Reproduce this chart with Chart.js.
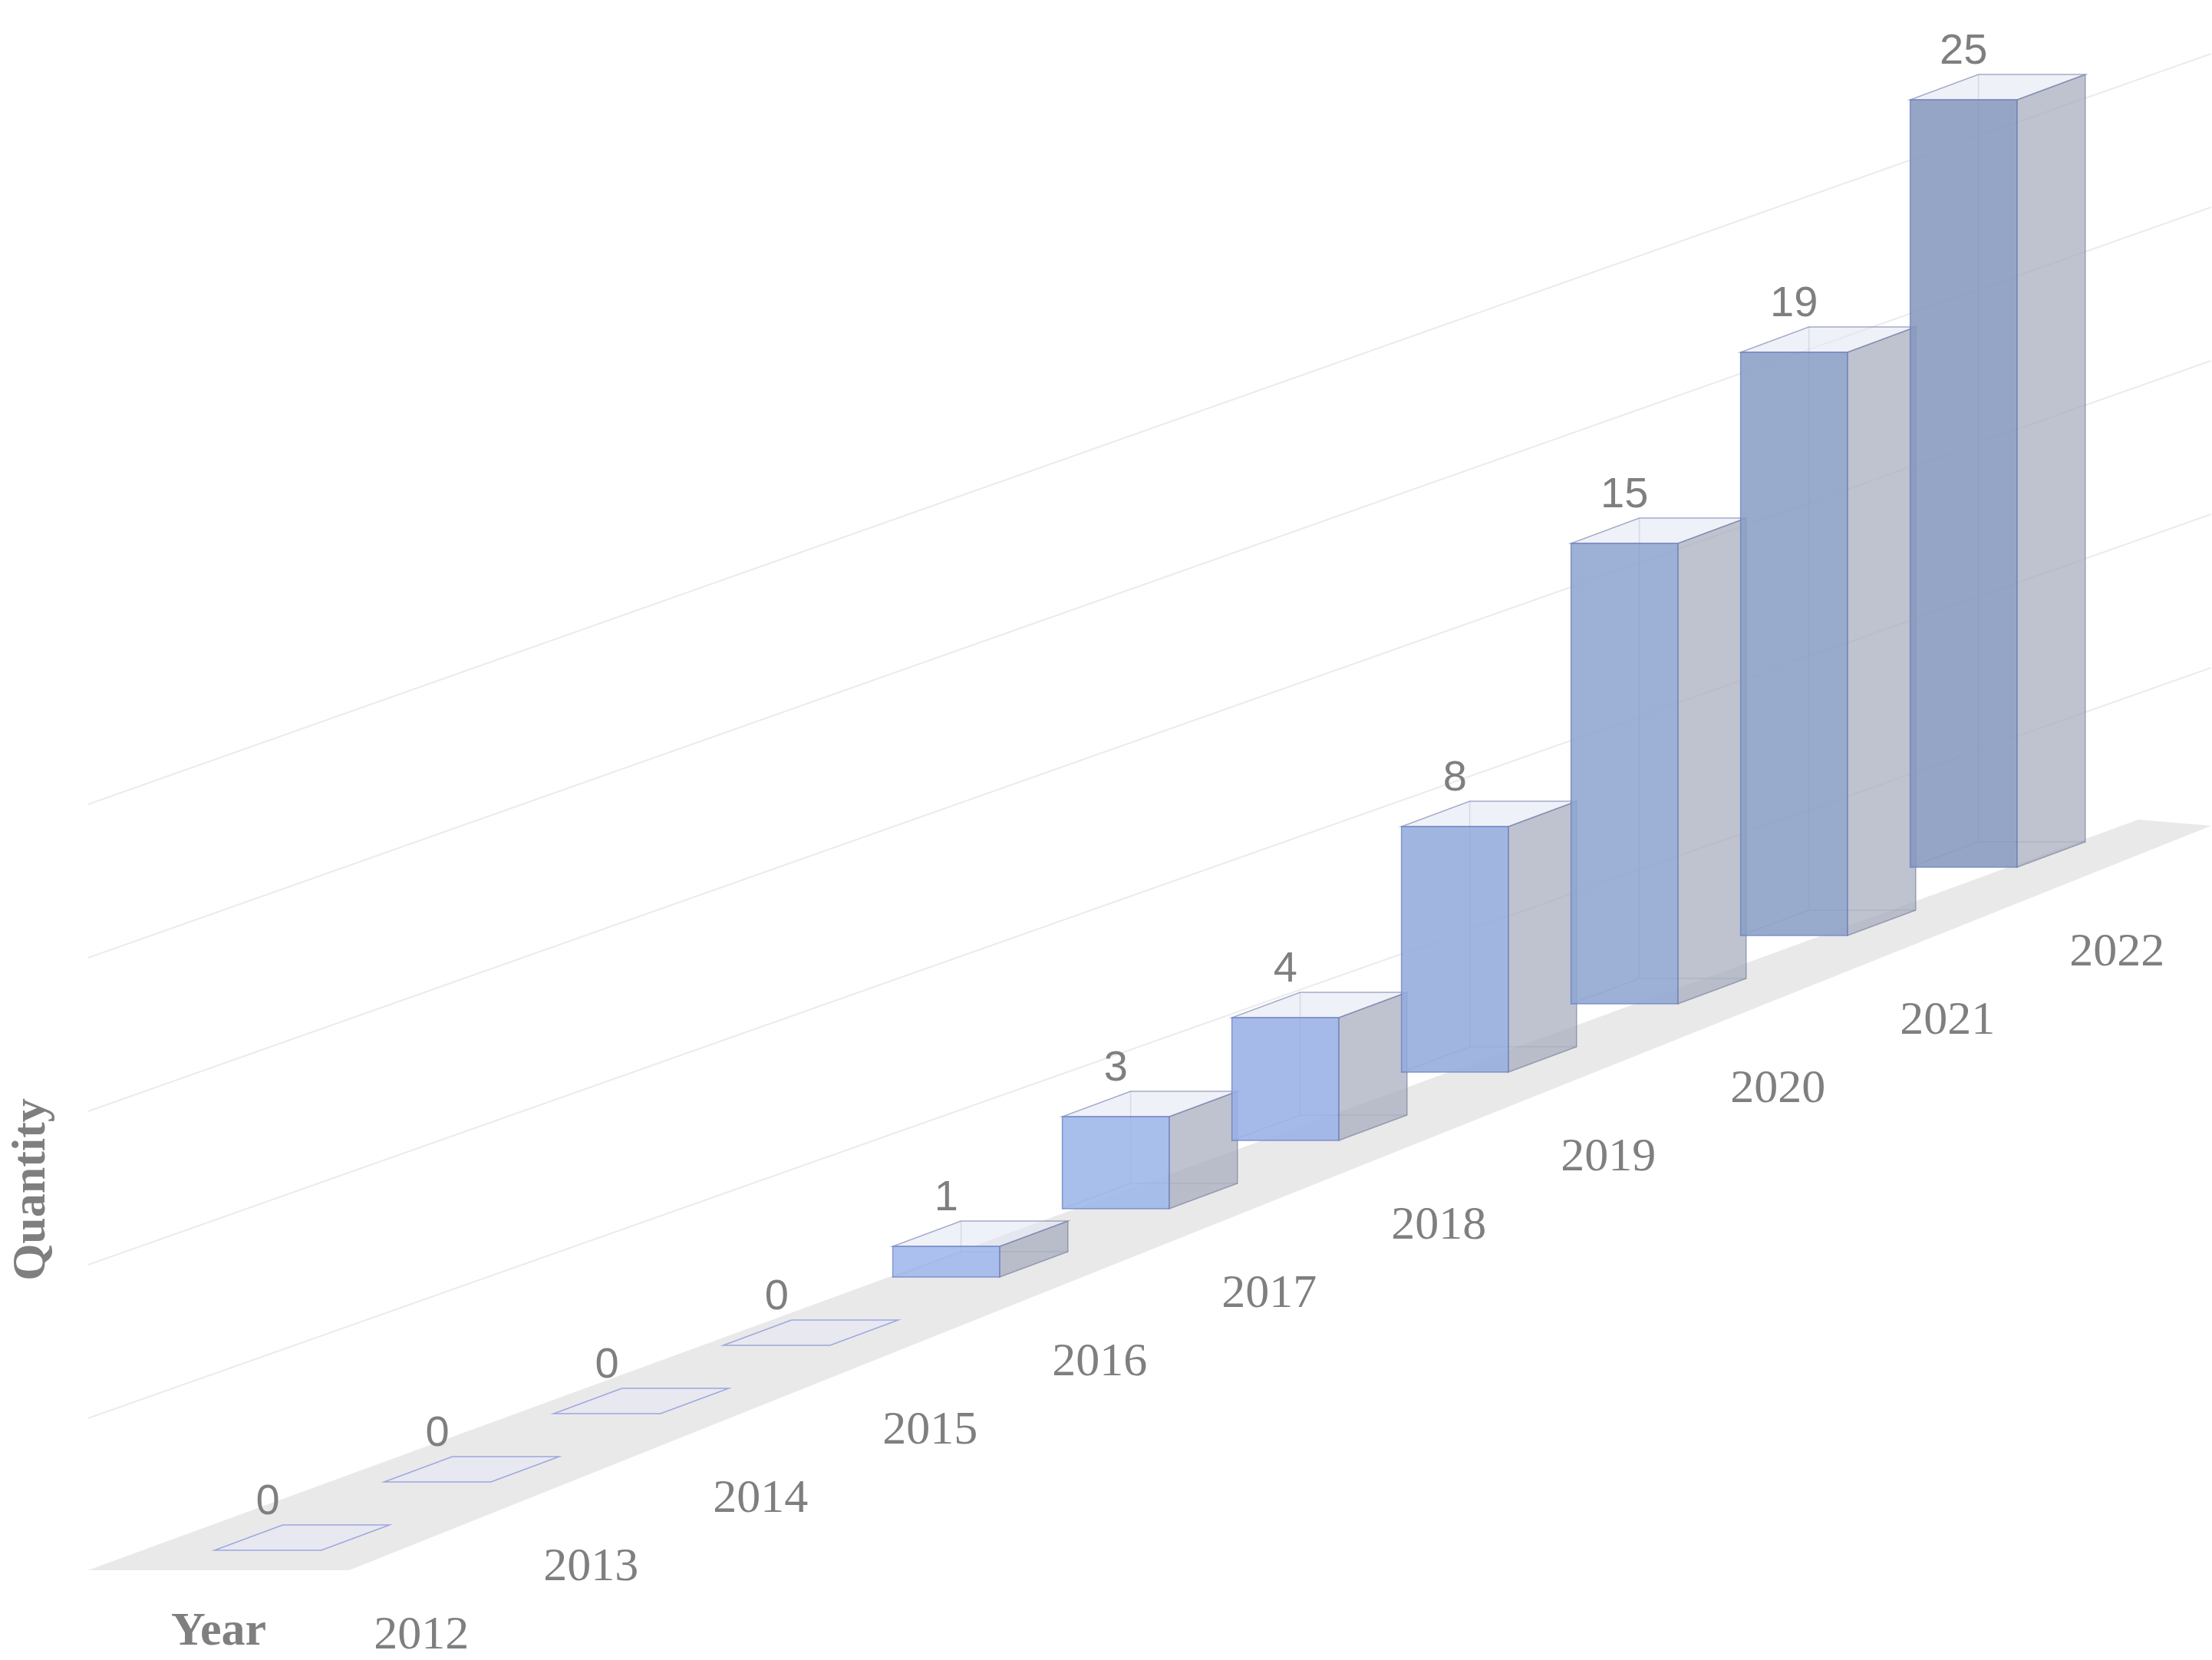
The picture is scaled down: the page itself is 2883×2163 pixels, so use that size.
<!DOCTYPE html>
<html><head><meta charset="utf-8">
<script src="https://cdn.jsdelivr.net/npm/chart.js@4"></script>
<style>html,body{margin:0;background:#fff}#c{display:block}</style>
</head><body>
<div style="width:2883px;height:2163px"><canvas id="c"></canvas></div>
<script>
const years=['2012','2013','2014','2015','2016','2017','2018','2019','2020','2021','2022'];
const values=[0,0,0,0,1,3,4,8,15,19,25];
const gridTicks=[5,10,15,20,25];
const RISE=2.225, HALF=0.315, DX=89, DY=33;
const frontCols=['#a6bdf0','#a6bdf0','#a6bdf0','#a6bdf0','#9fb7ec','#9cb5e8','#98b1e6','#93acdc','#8fa6d0','#8a9fc6','#8699bd'];
const plugin={
 id:'bars3d',
 beforeDatasetsDraw(ch){
  const c=ch.ctx,xs=ch.scales.x,ys=ch.scales.y,P=(x,y)=>[xs.getPixelForValue(x),ys.getPixelForValue(y)];
  c.save();
  // floor
  c.fillStyle='#e9e9e9';c.beginPath();
  [[-1.06,-0.65],[0.48,-0.65],[11.46,23.6],[11.03,23.8]].forEach((p,i)=>{const q=P(p[0],p[1]);i?c.lineTo(q[0],q[1]):c.moveTo(q[0],q[1]);});
  c.closePath();c.fill();
  // back grid lines
  c.strokeStyle='#ececec';c.lineWidth=2;
  gridTicks.forEach(t=>{const a=P(-1.06,t-0.7),b=P(11.46,t+23.75);c.beginPath();c.moveTo(a[0],a[1]);c.lineTo(b[0],b[1]);c.stroke();});
  c.restore();
 },
 afterDatasetsDraw(ch){
  const c=ch.ctx,xs=ch.scales.x,ys=ch.scales.y;
  c.save();c.lineWidth=1.5;
  values.forEach((v,i)=>{
   const xl=xs.getPixelForValue(i-HALF),xr=xs.getPixelForValue(i+HALF);
   const yb=ys.getPixelForValue(i*RISE),yt=ys.getPixelForValue(i*RISE+v);
   const poly=(pts,fill,stroke)=>{c.beginPath();pts.forEach((p,k)=>k?c.lineTo(p[0],p[1]):c.moveTo(p[0],p[1]));c.closePath();if(fill){c.fillStyle=fill;c.fill();}c.strokeStyle=stroke;c.stroke();};
   if(v>0){
    // hidden back edges
    c.strokeStyle='rgba(90,110,160,0.35)';c.beginPath();
    c.moveTo(xl+DX,yt-DY);c.lineTo(xl+DX,yb-DY);c.lineTo(xr+DX,yb-DY);
    c.moveTo(xl+DX,yb-DY);c.lineTo(xl,yb);c.stroke();
    poly([[xr,yb],[xr+DX,yb-DY],[xr+DX,yt-DY],[xr,yt]],'rgba(165,172,188,0.72)','rgba(110,120,150,0.6)');
    poly([[xl,yt],[xr,yt],[xr+DX,yt-DY],[xl+DX,yt-DY]],'rgba(225,230,242,0.55)','rgba(110,120,170,0.6)');
    poly([[xl,yb],[xr,yb],[xr,yt],[xl,yt]],frontCols[i]+'e0','rgba(100,120,190,0.7)');
   } else {
    poly([[xl,yb],[xr,yb],[xr+DX,yb-DY],[xl+DX,yb-DY]],'rgba(230,232,245,0.6)','rgba(140,150,220,0.8)');
   }
   c.fillStyle='#7f7f7f';c.textAlign='center';c.textBaseline='alphabetic';
   c.font='56px "Liberation Sans", Arial, sans-serif';
   c.fillText(String(v),(xl+xr)/2,yt-DY-14);
   c.font='62px "Liberation Serif", "DejaVu Serif", serif';
   c.fillText(years[i],(xl+xr)/2+200,yb+128);
  });
  c.font='bold 62px "Liberation Serif", "DejaVu Serif", serif';c.fillStyle='#7f7f7f';
  c.fillText('Year',285,2163-20);
  c.translate(58,1550);c.rotate(-Math.PI/2);c.fillText('Quantity',0,0);
  c.restore();
 }
};
new Chart(document.getElementById('c'),{
 type:'scatter',
 data:{datasets:[{data:values.map((v,i)=>({x:i,y:v})),pointRadius:0,showLine:false}]},
 options:{responsive:true,maintainAspectRatio:false,animation:false,
  layout:{padding:{top:0,bottom:143,left:0,right:0}},
  plugins:{legend:{display:false},tooltip:{enabled:false}},
  scales:{x:{type:'linear',min:-1.58,max:11.465,display:false},y:{type:'linear',min:0,max:50.5,display:false}}},
 plugins:[plugin]
});
</script></body></html>
